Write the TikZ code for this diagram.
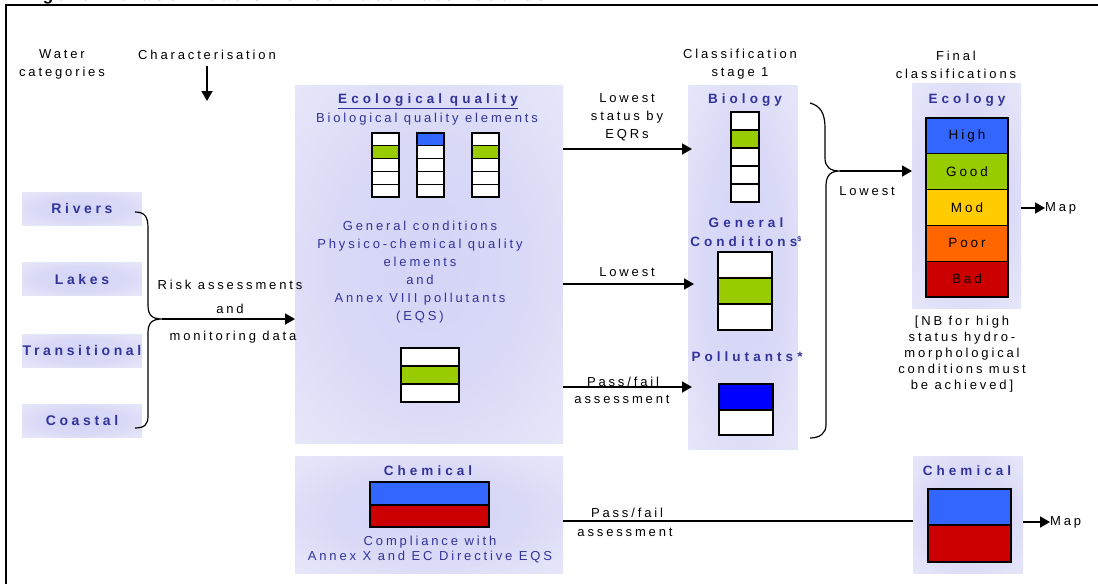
\documentclass[tikz,border=0pt]{standalone}
\usepackage{fontspec}
\setmainfont{Liberation Sans}[LetterSpace=22]
\usetikzlibrary{arrows.meta,calc}
\definecolor{lavbase}{RGB}{236,236,251}
\definecolor{lavglow}{RGB}{212,212,246}
\definecolor{navy}{RGB}{51,51,153}
\definecolor{cblue}{RGB}{51,102,255}
\definecolor{cgreen}{RGB}{153,204,0}
\definecolor{cyellow}{RGB}{255,204,0}
\definecolor{corange}{RGB}{255,102,0}
\definecolor{cred}{RGB}{204,0,0}
\definecolor{pureblue}{RGB}{0,0,255}
\pgfdeclareradialshading{glow}{\pgfpoint{0bp}{0bp}}{%
  color(0bp)=(lavglow); color(18bp)=(lavglow!80!lavbase);
  color(42bp)=(lavbase); color(50bp)=(lavbase)}
\tikzset{
  lavbox/.style={shade, shading=glow, draw=none, inner sep=0pt,
    outer sep=0pt, anchor=north west},
  catbox/.style={shade, shading=glow, draw=none, inner sep=0pt,
    outer sep=0pt, minimum width=120pt, minimum height=33pt, text=navy,
    font=\fontsize{14}{16}\selectfont\bfseries\addfontfeature{LetterSpace=26}},
  txt/.style={inner sep=0pt, align=center, font=\fontsize{13}{18}\selectfont},
  bluetxt/.style={txt, text=navy},
  hd/.style={txt, text=navy,
    font=\fontsize{13.5}{19}\selectfont\bfseries\addfontfeature{LetterSpace=30}},
  cell/.style={draw=black, line width=1.3pt},
  grade/.style={draw=black, line width=1.3pt, inner sep=0pt, outer sep=0pt,
    minimum width=82pt, minimum height=35.8pt,
    font=\fontsize{13.5}{16}\selectfont},
  arr/.style={line width=1.8pt, -{Triangle[length=10pt,width=11pt]}},
  brace/.style={line width=1.2pt, line join=round}
}
\begin{document}
\begin{tikzpicture}[x=1pt, y=-1pt]
\useasboundingbox (0,0) rectangle (1098,584);

% caption line above the frame, cut by the page edge
\begin{scope}
  \clip (0,0) rectangle (1098,584);
  \node[anchor=base west, inner sep=0pt,
    font=\fontsize{17}{19}\selectfont\bfseries] (caption) at (20,0.5)
    {Figure 4 Classification of surface water bodies};
\end{scope}

% frame
\draw[line width=2pt] (1098,5) -- (6,5) -- (6,584);

% column headings
\node[txt] (water) at (62,64) {Water\\categories};
\node[txt] (charac) at (207,55) {Characterisation};
\coordinate (charend) at (207,101);
\draw[arr] ([yshift=-6pt]charac.south) -- (charend);
\node[txt] (stagehd) at (740,64) {Classification\\stage 1};
\node[txt] (finalhd) at (956,65) {Final\\classifications};

% water categories
\node[catbox] (rivers) at (82,208.5) {Rivers};
\node[catbox] (lakes) at (82,279) {Lakes};
\node[catbox] (trans) at (82,350.5) {Transitional};
\node[catbox] (coastal) at (82,420.5) {Coastal};

% ecological quality panel
\node[lavbox, minimum width=268pt, minimum height=358pt] (eco) at (295,85) {};
\node[hd] (ecotitle) at (428,101) {\underline{Ecological quality}};
\node[bluetxt] (bioel) at (427,119) {Biological quality elements};
\foreach \c [count=\i from 0] in {white,cgreen,white,white,white}
  \draw[cell, fill=\c] (372,{133+12.8*\i}) rectangle (399,{145.8+12.8*\i});
\foreach \c [count=\i from 0] in {cblue,white,white,white,white}
  \draw[cell, fill=\c] (417,{133+12.8*\i}) rectangle (444,{145.8+12.8*\i});
\foreach \c [count=\i from 0] in {white,cgreen,white,white,white}
  \draw[cell, fill=\c] (472,{133+12.8*\i}) rectangle (499,{145.8+12.8*\i});
\node[bluetxt] (gencond) at (420,272)
  {General conditions\\Physico-chemical quality\\elements\\and\\Annex VIII pollutants\\(EQS)};
\foreach \c [count=\i from 0] in {white,cgreen,white}
  \draw[cell, fill=\c] (401,{348+18*\i}) rectangle (459,{366+18*\i});

% inputs to the ecological panel
\draw[brace] (135,212) .. controls (145,212) and (148,217) .. (148,228)
  -- (148,305) .. controls (148,315) and (152,319) .. (162,319)
  .. controls (152,319) and (148,323) .. (148,333)
  -- (148,416) .. controls (148,424) and (145,428) .. (135,428);
\coordinate (lbtip) at (162,319);
\draw[arr] (lbtip) -- (lbtip -| eco.west);
\node[txt] (risk) at (230,285) {Risk assessments};
\node[txt] (and) at (230,309) {and};
\node[txt] (monit) at (233,337) {monitoring data};

% classification stage 1 panel
\node[lavbox, minimum width=110pt, minimum height=364pt] (stage) at (688,85) {};
\node[hd] (biology) at (745,100) {Biology};
\foreach \c [count=\i from 0] in {white,cgreen,white,white,white}
  \draw[cell, fill=\c] (731,{112+18*\i}) rectangle (759,{130+18*\i});
\node[hd] (general) at (746,232.5) {General\\Conditions\textsuperscript{\fontsize{7}{8}\selectfont\$}};
\foreach \c [count=\i from 0] in {white,cgreen,white}
  \draw[cell, fill=\c] (718,{252+26*\i}) rectangle (772,{278+26*\i});
\node[hd] (pollut) at (747,357) {Pollutants*};
\draw[cell, fill=pureblue] (719,384) rectangle (773,410);
\draw[cell, fill=white] (719,410) rectangle (773,435);

% transfers to stage 1
\coordinate (ybio) at (0,149);
\coordinate (ygen) at (0,284);
\coordinate (ypol) at (0,387);
\draw[arr] (eco.east |- ybio) -- ([xshift=4pt]stage.west |- ybio);
\draw[arr] (eco.east |- ygen) -- ([xshift=6pt]stage.west |- ygen);
\draw[arr] (eco.east |- ypol) -- ([xshift=4pt]stage.west |- ypol);
\node[txt] (lowbio) at (627,117) {Lowest\\status by\\EQRs};
\node[txt] (lowgen) at (627,272) {Lowest};
\node[txt] (passfail) at (623,382) {Pass/fail};
\node[txt] (assess) at (622,399) {assessment};

% combination of stage 1 results
\draw[brace] (810,103) .. controls (821,106) and (825,114) .. (825,128)
  -- (825,158) .. controls (825,167) and (830,171) .. (840,171)
  .. controls (831,171) and (826,175) .. (826,186)
  -- (826,425) .. controls (826,433) and (820,438) .. (810,438);
\coordinate (rbtip) at (840,171);
\node[txt] (lowest) at (867,191) {Lowest};

% final ecological classification
\node[lavbox, minimum width=109pt, minimum height=225pt] (ecol) at (912,83) {};
\draw[arr] (rbtip) -- (rbtip -| ecol.west);
\node[hd] (ecology) at (967,100) {Ecology};
\node[grade, fill=cblue] (high) at (967,135.9) {High};
\node[grade, fill=cgreen] (good) at (967,171.7) {Good};
\node[grade, fill=cyellow] (mod) at (967,207.5) {Mod};
\node[grade, fill=corange] (poor) at (967,243.3) {Poor};
\node[grade, fill=cred] (bad) at (967,279.1) {Bad};
\node[txt, anchor=west] (map1) at (1045,208) {Map};
\draw[arr] (ecol.east |- map1) -- (map1.west);
\node[txt, font=\fontsize{13}{16}\selectfont] (nb) at (962,354)
  {[NB for high\\status hydro-\\morphological\\conditions must\\be achieved]};

% chemical status
\node[lavbox, minimum width=268pt, minimum height=117pt] (chem) at (295,456) {};
\node[hd] (chemtitle) at (428,471) {Chemical};
\draw[cell, fill=cblue] (370,482) rectangle (489,505);
\draw[cell, fill=cred] (370,505) rectangle (489,527);
\node[bluetxt, font=\fontsize{13}{15}\selectfont] (compl) at (430,549.5)
  {Compliance with\\Annex X and EC Directive EQS};

\node[lavbox, minimum width=110pt, minimum height=117pt] (chemfin) at (913,456) {};
\node[hd] (chemfintitle) at (967,471) {Chemical};
\draw[cell, fill=cblue] (928,489) rectangle (1011,525);
\draw[cell, fill=cred] (928,525) rectangle (1011,562);

\coordinate (ychem) at (0,521);
\draw[line width=1.8pt] (chem.east |- ychem) -- (chemfin.west |- ychem);
\node[txt] (pfchem) at (627,513) {Pass/fail};
\node[txt] (aschem) at (625,532) {assessment};
\node[txt, anchor=west] (map2) at (1050,522) {Map};
\draw[arr] (chemfin.east |- map2) -- (map2.west);
\end{tikzpicture}
\end{document}
